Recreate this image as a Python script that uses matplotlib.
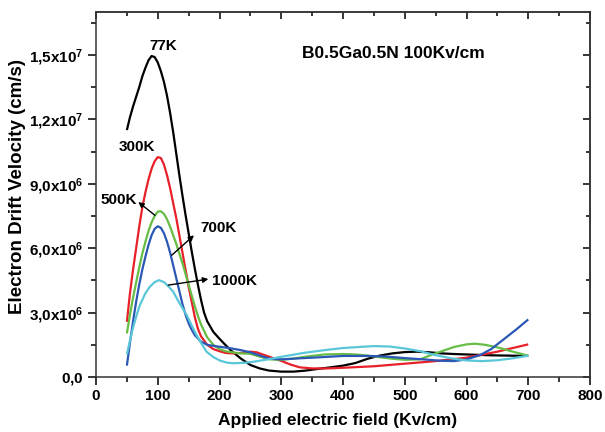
import matplotlib
matplotlib.use("Agg")
import matplotlib.pyplot as plt
from matplotlib.ticker import MultipleLocator, FixedLocator, FixedFormatter

plt.rcParams['font.family'] = ['Liberation Sans', 'DejaVu Sans']
plt.rcParams['font.weight'] = 'bold'
plt.rcParams['mathtext.fontset'] = 'custom'
plt.rcParams['mathtext.rm'] = 'Liberation Sans:bold'
plt.rcParams['mathtext.bf'] = 'Liberation Sans:bold'
plt.rcParams['mathtext.it'] = 'Liberation Sans:bold'

# Electron drift velocity (units of 1e6 cm/s) vs applied field (kV/cm)
x_77 = [50, 55, 60, 65, 70, 75, 80, 85, 90, 95, 100, 105, 110, 115, 120, 125, 130, 135,
        140, 145, 150, 155, 160, 165, 170, 175, 180, 190, 200, 210, 220, 235, 250, 265,
        280, 300, 320, 340, 360, 380, 400, 420, 440, 460, 480, 500, 520, 540, 560, 580,
        600, 620, 640, 660, 680, 700]
v_77 = [11.5, 12.1, 12.6, 13.05, 13.5, 14.0, 14.4, 14.75, 14.95, 14.9, 14.65, 14.25, 13.75,
        13.1, 12.3, 11.4, 10.4, 9.4, 8.45, 7.55, 6.7, 5.85, 5.05, 4.3, 3.6, 3.0, 2.6, 2.1,
        1.78, 1.48, 1.2, 0.85, 0.56, 0.4, 0.3, 0.25, 0.25, 0.3, 0.38, 0.45, 0.53, 0.65,
        0.85, 1.0, 1.1, 1.16, 1.18, 1.15, 1.1, 1.07, 1.05, 1.03, 1.01, 1.0, 0.99, 0.99]

x_300 = [50, 55, 60, 65, 70, 75, 80, 85, 90, 95, 100, 105, 110, 115, 120, 125, 130, 135,
         140, 145, 150, 155, 160, 165, 170, 180, 190, 200, 210, 220, 235, 250, 260, 270,
         285, 300, 315, 330, 350, 375, 400, 450, 500, 550, 600, 650, 700]
v_300 = [2.57, 3.9, 5.0, 6.0, 7.0, 7.9, 8.6, 9.2, 9.7, 10.05, 10.24, 10.2, 9.9, 9.4, 8.8,
         8.1, 7.4, 6.6, 5.8, 5.0, 4.2, 3.5, 2.8, 2.25, 1.9, 1.5, 1.3, 1.2, 1.12, 1.1, 1.12,
         1.18, 1.15, 1.05, 0.9, 0.75, 0.58, 0.45, 0.4, 0.4, 0.43, 0.5, 0.62, 0.74, 0.9,
         1.18, 1.52]

x_500 = [50, 55, 60, 65, 70, 75, 80, 85, 90, 95, 100, 105, 110, 115, 120, 125, 130, 135,
         140, 145, 150, 155, 160, 165, 170, 180, 190, 200, 210, 220, 235, 250, 265, 282,
         300, 320, 340, 370, 400, 420, 440, 460, 480, 500, 525, 540, 560, 580, 600, 614,
         630, 650, 670, 700]
v_500 = [2.03, 2.9, 3.7, 4.4, 5.1, 5.75, 6.3, 6.8, 7.2, 7.5, 7.7, 7.72, 7.6, 7.35, 7.0,
         6.6, 6.2, 5.75, 5.3, 4.8, 4.3, 3.8, 3.3, 2.85, 2.45, 1.85, 1.5, 1.3, 1.2, 1.15,
         1.1, 1.08, 0.95, 0.82, 0.8, 0.86, 0.95, 1.05, 1.07, 1.05, 1.0, 0.92, 0.85, 0.8,
         0.82, 1.0, 1.2, 1.4, 1.52, 1.55, 1.5, 1.38, 1.22, 0.99]

x_700 = [50, 55, 60, 65, 70, 75, 80, 85, 90, 95, 100, 105, 110, 115, 120, 125, 130, 135,
         140, 145, 150, 155, 160, 170, 180, 190, 200, 215, 233, 250, 265, 282, 300, 330,
         363, 400, 440, 470, 500, 530, 557, 580, 600, 622, 640, 660, 680, 700]
v_700 = [0.53, 1.6, 2.6, 3.5, 4.3, 5.0, 5.6, 6.15, 6.6, 6.9, 7.02, 6.95, 6.7, 6.3, 5.8,
         5.2, 4.6, 4.0, 3.4, 2.9, 2.5, 2.2, 1.95, 1.65, 1.5, 1.45, 1.41, 1.35, 1.26, 1.15,
         1.0, 0.85, 0.82, 0.87, 0.92, 0.98, 0.98, 0.95, 0.88, 0.82, 0.76, 0.74, 0.82, 1.02,
         1.3, 1.75, 2.2, 2.68]

x_1000 = [50, 55, 60, 65, 71, 80, 87, 95, 102, 110, 118, 125, 135, 147, 155, 163, 171,
          179, 190, 201, 212, 222, 240, 255, 280, 300, 336, 370, 400, 449, 475, 500, 525,
          550, 575, 600, 625, 650, 675, 700]
v_1000 = [1.05, 1.7, 2.3, 2.8, 3.35, 3.9, 4.2, 4.42, 4.51, 4.42, 4.2, 3.97, 3.45, 2.88,
          2.4, 1.95, 1.55, 1.18, 0.93, 0.76, 0.67, 0.64, 0.66, 0.71, 0.83, 0.94, 1.12, 1.25,
          1.35, 1.44, 1.42, 1.33, 1.2, 1.02, 0.87, 0.77, 0.74, 0.78, 0.87, 0.99]

series = [
    (x_77, v_77, '#000000'),
    (x_300, v_300, '#e8202a'),
    (x_500, v_500, '#66bd45'),
    (x_700, v_700, '#2b57b5'),
    (x_1000, v_1000, '#5ac7d8'),
]

y_ticks = [0, 3e6, 6e6, 9e6, 1.2e7, 1.5e7]
y_tick_labels = [r'$0{,}0$', r'$3{,}0x10^{6}$', r'$6{,}0x10^{6}$', r'$9{,}0x10^{6}$',
                 r'$1{,}2x10^{7}$', r'$1{,}5x10^{7}$']

fig = plt.figure(figsize=(6.05, 4.32), dpi=100)
ax = fig.add_axes([96 / 605, 55 / 432, 494 / 605, 365 / 432])

for xs, vs, c in series:
    ax.plot(xs, [v * 1e6 for v in vs], color=c, lw=1.6, solid_capstyle='butt')

ax.set_xlim(0, 800)
ax.set_ylim(0, 1.7e7)
ax.xaxis.set_major_locator(MultipleLocator(100))
ax.xaxis.set_minor_locator(MultipleLocator(50))
ax.yaxis.set_major_locator(FixedLocator(y_ticks))
ax.yaxis.set_major_formatter(FixedFormatter(y_tick_labels))
ax.yaxis.set_minor_locator(MultipleLocator(1.5e6))

for s in ax.spines.values():
    s.set_linewidth(1.1)
    s.set_color('#333333')

ax.tick_params(which='major', direction='out', length=6, width=1.1, labelsize=11, pad=3)
ax.tick_params(which='minor', direction='out', length=3.5, width=1.1)
for lbl in ax.get_xticklabels() + ax.get_yticklabels():
    lbl.set_fontweight('bold')

# mirrored ticks on the top and right, pointing inwards
top = ax.secondary_xaxis('top')
top.xaxis.set_major_locator(MultipleLocator(100))
top.xaxis.set_minor_locator(MultipleLocator(50))
top.tick_params(which='major', direction='in', length=5, width=1.1, labeltop=False)
top.tick_params(which='minor', direction='in', length=3, width=1.1)
right = ax.secondary_yaxis('right')
right.yaxis.set_major_locator(FixedLocator(y_ticks))
right.yaxis.set_minor_locator(MultipleLocator(1.5e6))
right.tick_params(which='major', direction='in', length=5, width=1.1, labelright=False)
right.tick_params(which='minor', direction='in', length=3, width=1.1)
for sec in (top, right):
    for s in sec.spines.values():
        s.set_linewidth(1.1)
        s.set_color('#333333')

ax.set_xlabel('Applied electric field (Kv/cm)', fontsize=12.5, fontweight='bold')
ax.xaxis.set_label_coords((337.5 - 96) / 494, -(421 - 377) / 365)
ax.xaxis.label.set_va('center')
ax.set_ylabel('Electron Drift Velocity (cm/s)', fontsize=13.5, fontweight='bold')
ax.yaxis.set_label_coords((18 - 96) / 494, (377 - 186) / 365)
ax.yaxis.label.set_va('center')

ax.text(333, 1.506e7, 'B0.5Ga0.5N 100Kv/cm', fontsize=12.5, fontweight='bold',
        ha='left', va='center')

lab_kw = dict(fontsize=11, fontweight='bold', ha='center', va='center')
ax.text(108.5, 1.543e7, '77K', **lab_kw)
ax.text(66, 1.07e7, '300K', **lab_kw)

arrow = dict(arrowstyle='-|>', color='black', lw=1.0, mutation_scale=8,
             shrinkA=0, shrinkB=0)
ax.text(37, 8.23e6, '500K', **lab_kw)
ax.annotate('', xy=(68.5, 8.15e6), xytext=(95.5, 7.53e6), arrowprops=arrow)
ax.text(199, 6.93e6, '700K', **lab_kw)
ax.annotate('', xy=(158.7, 6.6e6), xytext=(122.6, 5.67e6), arrowprops=arrow)
ax.text(224, 4.48e6, '1000K', **lab_kw)
ax.annotate('', xy=(182, 4.56e6), xytext=(117, 4.28e6), arrowprops=arrow)

fig.savefig('out.png', dpi=100)
